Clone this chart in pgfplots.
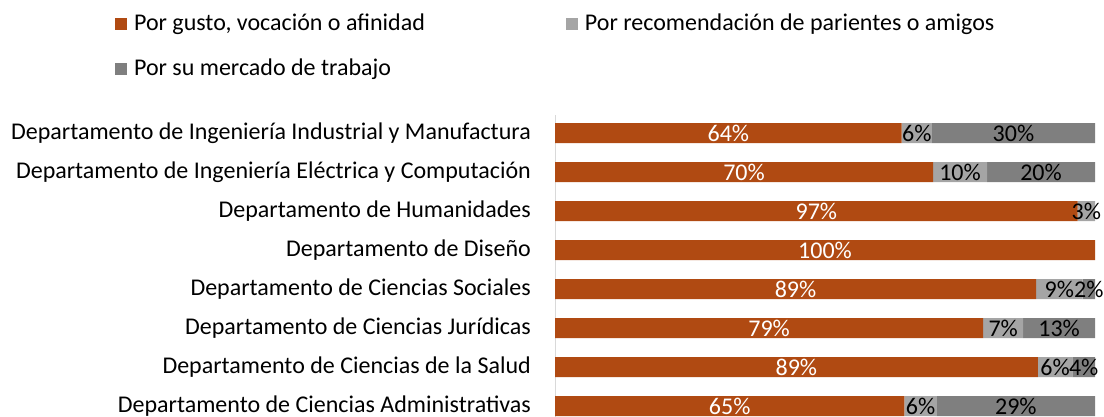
\documentclass[border=0pt]{standalone}
\usepackage{pgfplots}
\pgfplotsset{compat=1.18}
\usepackage{fontspec}
\setmainfont{Carlito}
\definecolor{cOr}{HTML}{B04A12}
\definecolor{cLg}{HTML}{A5A5A5}
\definecolor{cDg}{HTML}{7F7F7F}
\definecolor{cAx}{HTML}{D9D9D9}
\newcommand{\ff}{\fontsize{24bp}{29bp}\selectfont}
\begin{document}
\ff
\begin{tikzpicture}
\path[use as bounding box] (0,0) rectangle (1104bp,417bp);
\begin{axis}[
  at={(555bp,0bp)}, anchor=south west,
  scale only axis, width=540bp, height=302bp,
  xbar stacked, bar width=20bp,
  xmin=0, xmax=100,
  ymin=-0.4615, ymax=7.282, y dir=reverse,
  ytick={0,...,7},
  yticklabels={Departamento de Ingeniería Industrial y Manufactura,
    Departamento de Ingeniería Eléctrica y Computación,
    Departamento de Humanidades,
    Departamento de Diseño,
    Departamento de Ciencias Sociales,
    Departamento de Ciencias Jurídicas,
    Departamento de Ciencias de la Salud,
    Departamento de Ciencias Administrativas},
  xtick=\empty,
  axis x line=none,
  axis y line*=left,
  y axis line style={draw=cAx, line width=1bp},
  major tick length=0pt,
  yticklabel style={font=\ff, anchor=east, inner sep=0pt, xshift=-24bp},
  clip=false,
  visualization depends on=rawx \as \rawx,
  nodes near coords={\ifdim\rawx pt>0.5pt\pgfmathtruncatemacro\rv{round(\rawx)}\rv\%\fi},
  every node near coord/.append style={anchor=center, font=\ff, inner sep=0pt},
  legend columns=2,
  legend cell align=left,
  legend image code/.code={\fill[#1] (0bp,-6bp) rectangle (12bp,6bp);},
  legend style={at={(axis description cs:-0.815,1.341)}, anchor=north west,
    draw=none, fill=none, font=\ff, inner sep=0pt, row sep=20bp,
    /tikz/every odd column/.append style={column sep=5bp},
    /tikz/every even column/.append style={column sep=139bp}},
]
\addplot[fill=cOr, draw=none, every node near coord/.append style={text=white}] coordinates {
(64.2,0) (70.0,1) (96.8,2) (100,3) (89.1,4) (79.3,5) (89.4,6) (64.7,7)};
\addplot[fill=cLg, draw=none, every node near coord/.append style={text=black}] coordinates {
(5.6,0) (10.0,1) (3.2,2) (0,3) (8.6,4) (7.4,5) (6.4,6) (6.0,7)};
\addplot[fill=cDg, draw=none, every node near coord/.append style={text=black}] coordinates {
(30.2,0) (20.0,1) (0,2) (0,3) (2.3,4) (13.3,5) (4.2,6) (29.3,7)};
\legend{{Por gusto, vocación o afinidad}, Por recomendación de parientes o amigos, Por su mercado de trabajo}
\end{axis}
\end{tikzpicture}
\end{document}
